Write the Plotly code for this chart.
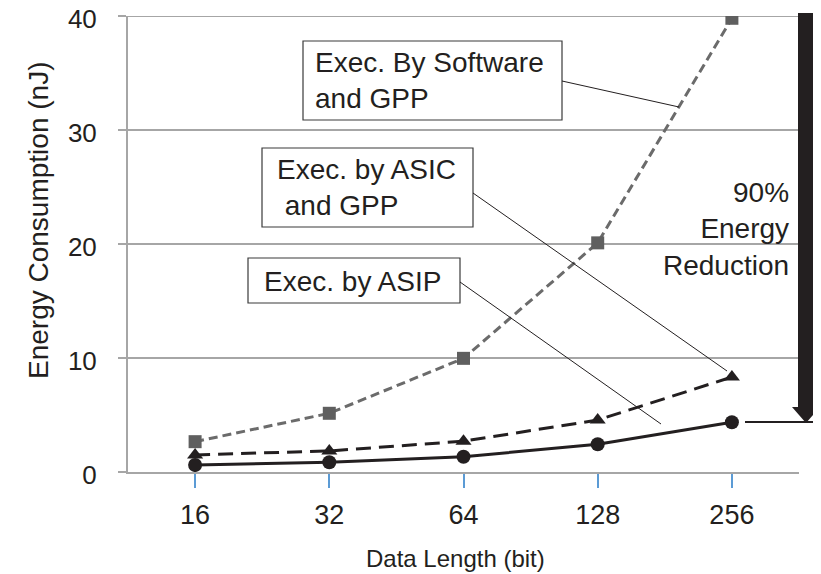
import plotly.graph_objects as go

categories = ['16', '32', '64', '128', '256']
software_gpp = [2.66, 5.15, 9.97, 20.1, 39.8]
asic_gpp = [1.5, 1.85, 2.7, 4.56, 8.33]
asip = [0.61, 0.85, 1.34, 2.43, 4.36]
y_ticks = [0, 10, 20, 30, 40]

FONT = "Liberation Sans"
TXT = "#231f20"
GRID = "#a6a6a6"

# page offset (browser body margin) and pixel geometry of the plot area on screen
OFF = 8
L, R, T, B = 128, 799, 16, 472
W, H = R - L, B - T
FIG_W, FIG_H = 821 - OFF, 574 - OFF


def px(X):
    return (X - L) / W


def py(Y):
    return (B - Y) / H


xpos = list(range(len(categories)))

fig = go.Figure()
fig.add_trace(go.Scatter(
    x=xpos, y=software_gpp, mode='lines+markers',
    line=dict(color='#6b6b6b', width=3, dash='9px,5px'),
    marker=dict(symbol='square', size=13, color='#5f5f5f'),
    name='Exec. By Software and GPP'))
fig.add_trace(go.Scatter(
    x=xpos, y=asic_gpp, mode='lines+markers',
    line=dict(color=TXT, width=3, dash='15px,8px'),
    marker=dict(symbol='triangle-up', size=14, color=TXT),
    name='Exec. by ASIC and GPP'))
fig.add_trace(go.Scatter(
    x=xpos, y=asip, mode='lines+markers',
    line=dict(color=TXT, width=3),
    marker=dict(symbol='circle', size=14, color=TXT),
    name='Exec. by ASIP'))

shapes = []
# top gridline (drawn explicitly so it is not dropped at the plot edge)
shapes.append(dict(type='line', xref='paper', yref='y', x0=px(120), x1=1,
                   y0=y_ticks[-1], y1=y_ticks[-1], line=dict(color=GRID, width=2),
                   layer='below'))
# hide gridline behind the "90% Energy Reduction" text
shapes.append(dict(type='rect', xref='paper', yref='y', x0=px(649), x1=px(798),
                   y0=19.5, y1=20.5, fillcolor='white', line=dict(width=0),
                   layer='between'))
# big arrow
shapes.append(dict(type='rect', xref='paper', yref='paper', x0=px(798), x1=px(813),
                   y0=py(408), y1=py(13), fillcolor=TXT, line=dict(width=0)))
shapes.append(dict(type='path', xref='paper', yref='paper',
                   path=f"M {px(792)} {py(407)} L {px(820)} {py(407)} L {px(806)} {py(423)} Z",
                   fillcolor=TXT, line=dict(width=0)))
shapes.append(dict(type='line', xref='paper', yref='paper', x0=px(745), x1=px(821),
                   y0=py(422), y1=py(422), line=dict(color=TXT, width=2)))

# label boxes
boxes = [(303, 41, 562, 120), (262, 148, 473, 227), (248, 258, 460, 303)]
for (x0, y0, x1, y1) in boxes:
    shapes.append(dict(type='rect', xref='paper', yref='paper', x0=px(x0), x1=px(x1),
                       y0=py(y1), y1=py(y0), fillcolor='white',
                       line=dict(color='#3a3a3a', width=1.2), layer='above'))
# leader lines
leaders = [((562, 81), (679, 107)), ((473, 193), (727, 371)), ((460, 282), (661, 424))]
for (a, b) in leaders:
    shapes.append(dict(type='line', xref='paper', yref='paper', x0=px(a[0]), y0=py(a[1]),
                       x1=px(b[0]), y1=py(b[1]), line=dict(color=TXT, width=1)))

annotations = [
    dict(text='Exec. By Software<br>and GPP', x=px(313), y=py(80.5), xanchor='left', yanchor='middle',
         align='left'),
    dict(text='Exec. by ASIC<br> and GPP', x=px(275), y=py(187.5), xanchor='left', yanchor='middle',
         align='left'),
    dict(text='Exec. by ASIP', x=px(262), y=py(281), xanchor='left', yanchor='middle',
         align='left'),
    dict(text='90%<br>Energy<br>Reduction', x=px(791), y=py(229), xanchor='right', yanchor='middle',
         align='right', font=dict(family=FONT, size=28, color=TXT)),
    dict(text='Energy Consumption (nJ)', x=px(38), y=py(221), xanchor='center', yanchor='middle',
         textangle=-90, font=dict(family=FONT, size=28, color=TXT)),
    dict(text='Data Length (bit)', x=px(455), y=py(558), xanchor='center', yanchor='middle',
         font=dict(family=FONT, size=24, color=TXT)),
]
for a in annotations:
    a.update(xref='paper', yref='paper', showarrow=False)
    a.setdefault('font', dict(family=FONT, size=28, color=TXT))

fig.update_layout(
    width=FIG_W, height=FIG_H,
    margin=dict(l=L - OFF, r=FIG_W - (R - OFF), t=T - OFF, b=FIG_H - (B - OFF),
                autoexpand=False),
    paper_bgcolor='white', plot_bgcolor='white',
    showlegend=False,
    font=dict(family=FONT, color=TXT),
    shapes=shapes,
    annotations=annotations,
    xaxis=dict(range=[-0.5, 4.5], tickvals=xpos, ticktext=categories,
               showgrid=False, zeroline=False, automargin=False,
               showline=True, linecolor=GRID, linewidth=2,
               ticks='outside', ticklen=14, tickwidth=2, tickcolor='#5b9bd5',
               tickfont=dict(family=FONT, size=27, color=TXT),
               ticklabelstandoff=4),
    yaxis=dict(range=[0, 40], tickvals=y_ticks, automargin=False,
               showgrid=True, gridcolor=GRID, gridwidth=2,
               zeroline=False, ticklabeloverflow='allow',
               showline=True, linecolor=GRID, linewidth=2,
               ticks='outside', ticklen=8, tickwidth=2, tickcolor=GRID,
               tickfont=dict(family=FONT, size=26, color=TXT),
               ticklabelstandoff=16, ticklabelshift=3),
)

fig.write_html("out.html")
